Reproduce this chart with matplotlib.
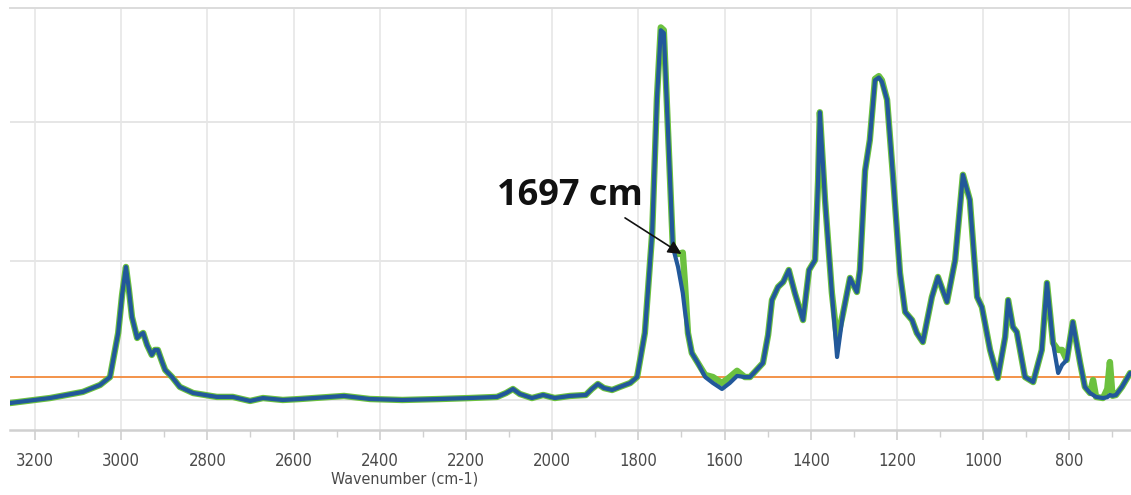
import matplotlib
matplotlib.use("Agg")
import matplotlib.pyplot as plt
from matplotlib.ticker import MultipleLocator, FixedLocator

# ---- data ----
wavenumber = [3258, 3165, 3089, 3049, 3026, 3007, 2998, 2989, 2982, 2975, 2963, 2956, 2949,
              2940, 2929, 2922, 2915, 2905, 2898, 2882, 2864, 2833, 2778, 2741, 2701, 2671,
              2625, 2585, 2483, 2423, 2348, 2260, 2191, 2128, 2107, 2091, 2075, 2047, 2021,
              1994, 1959, 1922, 1908, 1894, 1880, 1861, 1843, 1819, 1803, 1785, 1768, 1757,
              1748, 1741, 1731, 1720, 1708, 1697, 1692, 1685, 1676, 1662, 1645, 1627, 1606,
              1588, 1571, 1553, 1541, 1511, 1499, 1490, 1476, 1464, 1451, 1437, 1418, 1404,
              1390, 1383, 1379, 1367, 1351, 1339, 1325, 1309, 1293, 1286, 1274, 1263, 1251,
              1242, 1235, 1223, 1209, 1193, 1181, 1165, 1154, 1140, 1119, 1105, 1084, 1065,
              1047, 1031, 1014, 1003, 984, 966, 949, 942, 931, 922, 903, 884, 864, 852, 838,
              826, 817, 806, 792, 775, 764, 752, 745, 738, 722, 712, 706, 700, 692, 678, 659]

absorb_blue = [-0.0022, 0.0014, 0.0058, 0.0108, 0.0165, 0.0482, 0.0755, 0.0957, 0.0790, 0.0597,
               0.0446, 0.0468, 0.0482, 0.0396, 0.0324, 0.0360, 0.0360, 0.0273, 0.0216, 0.0165,
               0.0094, 0.0050, 0.0022, 0.0022, -0.0007, 0.0014, 0.0000, 0.0007, 0.0029, 0.0007,
               0.0000, 0.0007, 0.0014, 0.0022, 0.0050, 0.0079, 0.0043, 0.0014, 0.0036, 0.0014,
               0.0029, 0.0036, 0.0079, 0.0115, 0.0086, 0.0072, 0.0094, 0.0122, 0.0165, 0.0482,
               0.1200, 0.2160, 0.2660, 0.2640, 0.1920, 0.1100, 0.0957, 0.0770, 0.0640, 0.0482,
               0.0338, 0.0266, 0.0165, 0.0122, 0.0079, 0.0122, 0.0173, 0.0165, 0.0165, 0.0266,
               0.0468, 0.0719, 0.0813, 0.0849, 0.0935, 0.0770, 0.0575, 0.0935, 0.1007, 0.1580,
               0.2070, 0.1440, 0.0770, 0.0309, 0.0626, 0.0878, 0.0777, 0.0935, 0.1650, 0.1870,
               0.2300, 0.2320, 0.2290, 0.2160, 0.1600, 0.0914, 0.0633, 0.0575, 0.0482, 0.0417,
               0.0741, 0.0885, 0.0705, 0.1007, 0.1620, 0.1440, 0.0741, 0.0669, 0.0360, 0.0158,
               0.0453, 0.0719, 0.0525, 0.0489, 0.0165, 0.0129, 0.0360, 0.0842, 0.0410, 0.0194,
               0.0252, 0.0288, 0.0561, 0.0266, 0.0094, 0.0050, 0.0036, 0.0022, 0.0014, 0.0020,
               0.0036, 0.0030, 0.0036, 0.0094, 0.0194]

absorb_green = [-0.0022, 0.0014, 0.0058, 0.0108, 0.0165, 0.0482, 0.0755, 0.0957, 0.0790, 0.0597,
                0.0446, 0.0468, 0.0482, 0.0396, 0.0324, 0.0360, 0.0360, 0.0273, 0.0216, 0.0165,
                0.0094, 0.0050, 0.0022, 0.0022, -0.0007, 0.0014, 0.0000, 0.0007, 0.0029, 0.0007,
                0.0000, 0.0007, 0.0014, 0.0022, 0.0050, 0.0079, 0.0043, 0.0014, 0.0036, 0.0014,
                0.0029, 0.0036, 0.0079, 0.0115, 0.0086, 0.0072, 0.0094, 0.0122, 0.0165, 0.0482,
                0.1200, 0.2170, 0.2680, 0.2660, 0.1920, 0.1100, 0.1050, 0.1060, 0.0840, 0.0482,
                0.0338, 0.0266, 0.0180, 0.0165, 0.0122, 0.0165, 0.0210, 0.0165, 0.0165, 0.0266,
                0.0468, 0.0719, 0.0813, 0.0849, 0.0935, 0.0770, 0.0575, 0.0935, 0.1007, 0.1580,
                0.2070, 0.1440, 0.0770, 0.0432, 0.0626, 0.0878, 0.0777, 0.0935, 0.1650, 0.1870,
                0.2310, 0.2330, 0.2300, 0.2160, 0.1600, 0.0914, 0.0633, 0.0575, 0.0482, 0.0417,
                0.0741, 0.0885, 0.0705, 0.1007, 0.1620, 0.1440, 0.0741, 0.0669, 0.0360, 0.0158,
                0.0453, 0.0719, 0.0525, 0.0489, 0.0165, 0.0129, 0.0360, 0.0842, 0.0410, 0.0360,
                0.0360, 0.0288, 0.0561, 0.0266, 0.0094, 0.0050, 0.0144, 0.0022, 0.0014, 0.0080,
                0.0273, 0.0030, 0.0036, 0.0094, 0.0194]

baseline_level = 0.0165
xticks_major = [3200, 3000, 2800, 2600, 2400, 2200, 2000, 1800, 1600, 1400, 1200, 1000, 800]
ygrid = [0.0, 0.1, 0.2]
annot_text = "1697 cm"
annot_text_pos = (2128, 0.147)
annot_arrow_tail = (1831, 0.131)
annot_arrow_head = (1700, 0.105)

# ---- figure ----
fig = plt.figure(figsize=(11.31, 4.95), dpi=100)
ax = fig.add_axes([10 / 1131, (495 - 430) / 495, 1 - 10 / 1131, (430 - 8) / 495])

ax.set_xlim(3258, 657)
ax.set_ylim(-0.0216, 0.282)

grid_col = "#e6e6e6"
for xv in xticks_major:
    ax.axvline(xv, color=grid_col, lw=1.2, zorder=0)
for yv in ygrid:
    ax.axhline(yv, color=grid_col, lw=1.4, zorder=0)

ax.axhline(baseline_level, color="#f28a3c", lw=1.3, zorder=3)

ax.plot(wavenumber, absorb_green, color="#6cc13f", lw=4.6, solid_joinstyle="round",
        solid_capstyle="round", zorder=4)
ax.plot(wavenumber, absorb_blue, color="#22589a", lw=3.0, solid_joinstyle="round",
        solid_capstyle="round", zorder=5)

# axes styling
for side in ["left", "right"]:
    ax.spines[side].set_visible(False)
ax.spines["top"].set_color("#dcdcdc")
ax.spines["top"].set_linewidth(1.4)
ax.spines["bottom"].set_color("#d0d0d0")
ax.spines["bottom"].set_linewidth(1.8)

ax.xaxis.set_major_locator(FixedLocator(xticks_major))
ax.xaxis.set_minor_locator(MultipleLocator(100))
ax.set_yticks([])
ax.tick_params(axis="x", which="major", length=7, width=1.2, color="#d0d0d0",
               labelsize=12, labelcolor="#4a4a4a", pad=9)
ax.tick_params(axis="x", which="minor", length=5, width=1.0, color="#d0d0d0")
for lab in ax.get_xticklabels():
    lab.set_fontstretch("condensed")

fig.text(405 / 1131, (495 - 479) / 495, "Wavenumber (cm-1)", ha="center", va="center",
         fontsize=11.5, color="#4a4a4a", fontstretch="condensed")

ax.text(annot_text_pos[0], annot_text_pos[1], annot_text, ha="left", va="center",
        fontsize=26, fontweight="bold", color="#111111", family=["Open Sans", "DejaVu Sans"],
        zorder=6)
ax.annotate("", xy=annot_arrow_head, xytext=annot_arrow_tail,
            arrowprops=dict(arrowstyle="-|>", color="#111111", lw=1.2, mutation_scale=20,
                            shrinkA=0, shrinkB=0), zorder=6)

fig.savefig("out.png", dpi=100)
